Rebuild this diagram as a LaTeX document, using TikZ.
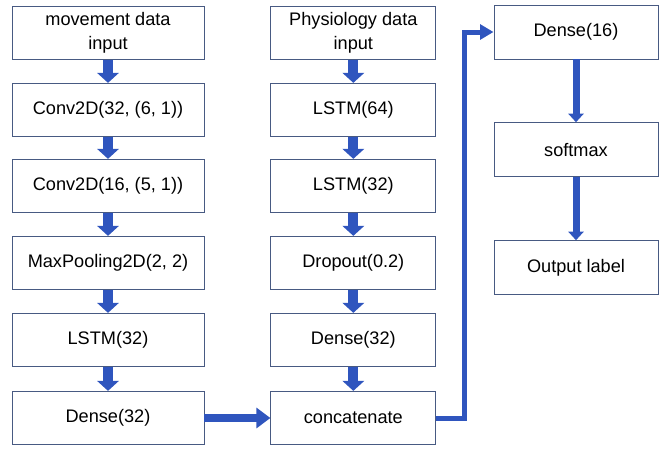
\documentclass[tikz,border=0pt]{standalone}
\usepackage{fontspec}
\setmainfont{Liberation Sans}
\usetikzlibrary{arrows.meta}

\definecolor{arrowblue}{RGB}{47,85,190}
\definecolor{boxline}{RGB}{72,90,130}

\begin{document}
\begin{tikzpicture}[
    box/.style={draw=boxline, line width=0.8pt, fill=white, inner sep=0pt, align=center,
        font=\fontsize{15.5}{20}\selectfont},
    leftbox/.style={box, minimum width=5.76cm, minimum height=1.6cm},
    midbox/.style={box, minimum width=4.95cm, minimum height=1.6cm},
    rightbox/.style={box, minimum width=4.92cm, minimum height=1.62cm},
    down/.style={arrowblue, line width=0.3cm, -{Triangle[width=0.64cm,length=0.3cm]}},
    longdown/.style={arrowblue, line width=0.21cm, -{Triangle[width=0.46cm,length=0.26cm]}},
    across/.style={arrowblue, line width=0.24cm, -{Triangle[width=0.6cm,length=0.42cm]}},
    elbow/.style={arrowblue, line width=0.15cm, line join=miter, -{Triangle[width=0.44cm,length=0.4cm]}}
    ]

    \useasboundingbox (0,0) rectangle (19.95,-13.5);

    % movement branch
    \node[leftbox] (mv) at (3.24,-0.98) {movement data\\input};
    \node[leftbox] (c32) at (3.24,-3.3) {Conv2D(32, (6, 1))};
    \node[leftbox] (c16) at (3.24,-5.58) {Conv2D(16, (5, 1))};
    \node[leftbox] (pool) at (3.24,-7.89) {MaxPooling2D(2, 2)};
    \node[leftbox] (lstmA) at (3.24,-10.2) {LSTM(32)};
    \node[leftbox] (denseA) at (3.24,-12.54) {Dense(32)};

    \draw[down] (mv) to (c32);
    \draw[down] (c32) to (c16);
    \draw[down] (c16) to (pool);
    \draw[down] (pool) to (lstmA);
    \draw[down] (lstmA) to (denseA);

    % physiology branch
    \node[midbox] (ph) at (10.6,-0.98) {Physiology data\\input};
    \node[midbox] (l64) at (10.6,-3.3) {LSTM(64)};
    \node[midbox] (l32) at (10.6,-5.58) {LSTM(32)};
    \node[midbox] (drop) at (10.6,-7.89) {Dropout(0.2)};
    \node[midbox] (denseB) at (10.6,-10.2) {Dense(32)};
    \node[midbox] (cat) at (10.6,-12.54) {concatenate};

    \draw[down] (ph) to (l64);
    \draw[down] (l64) to (l32);
    \draw[down] (l32) to (drop);
    \draw[down] (drop) to (denseB);
    \draw[down] (denseB) to (cat);

    \draw[across] (denseA) to (cat);

    % output head
    \node[rightbox] (d16) at (17.28,-0.96) {Dense(16)};
    \node[rightbox] (soft) at (17.28,-4.49) {softmax};
    \node[rightbox] (out) at (17.28,-8.03) {Output label};

    \draw[elbow] (cat.east) -- ++(0.84,0) |- (d16.west);
    \draw[longdown] (d16) to (soft);
    \draw[longdown] (soft) to (out);

\end{tikzpicture}
\end{document}
